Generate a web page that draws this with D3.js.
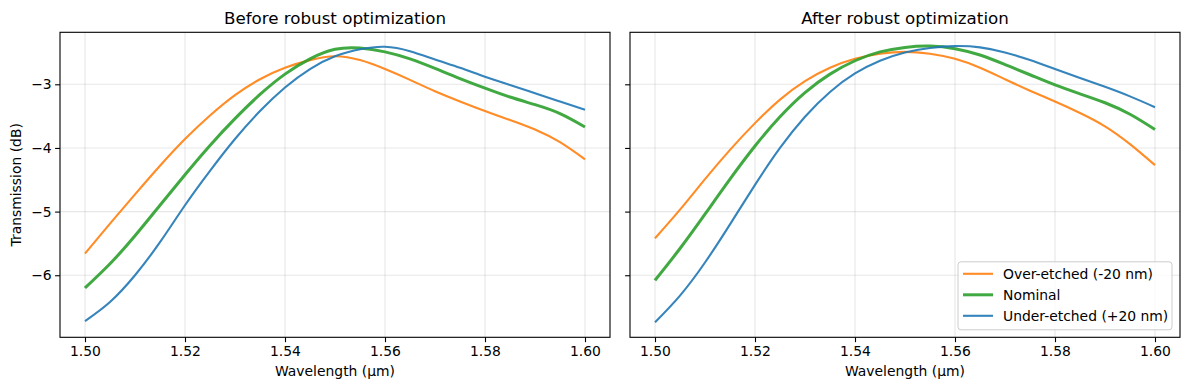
<!DOCTYPE html>
<html>
<head>
<meta charset="utf-8">
<script src="https://cdn.jsdelivr.net/npm/d3@7"></script>
<style>
  body { margin: 0; background: #fff; }
  text { font-family: "DejaVu Sans", sans-serif; fill: #000; }
</style>
</head>
<body>
<div id="my_chart"></div>
<script>

// ======================= //
// DATA
// ======================= //

var wavelengths = [1.500, 1.505, 1.510, 1.515, 1.520, 1.525, 1.530, 1.535, 1.540, 1.545, 1.550,
                   1.555, 1.560, 1.565, 1.570, 1.575, 1.580, 1.585, 1.590, 1.595, 1.600]

// before robust optimization
var beforeOver    = [-5.66, -5.19, -4.73, -4.28, -3.86, -3.49, -3.17, -2.92, -2.74, -2.62, -2.56,
                     -2.62, -2.76, -2.93, -3.11, -3.27, -3.42, -3.56, -3.71, -3.91, -4.18]
var beforeNominal = [-6.20, -5.82, -5.38, -4.90, -4.42, -3.96, -3.54, -3.16, -2.84, -2.60, -2.45,
                     -2.43, -2.49, -2.60, -2.75, -2.91, -3.06, -3.20, -3.32, -3.46, -3.67]
var beforeUnder   = [-6.72, -6.42, -6.00, -5.48, -4.90, -4.36, -3.86, -3.42, -3.05, -2.76, -2.56,
                     -2.45, -2.41, -2.48, -2.61, -2.74, -2.88, -3.01, -3.14, -3.27, -3.40]

// after robust optimization
var afterOver     = [-5.42, -4.97, -4.49, -4.03, -3.61, -3.24, -2.95, -2.74, -2.60, -2.52, -2.49,
                     -2.52, -2.60, -2.74, -2.92, -3.10, -3.27, -3.45, -3.66, -3.94, -4.27]
var afterNominal  = [-6.08, -5.58, -5.04, -4.49, -3.97, -3.51, -3.13, -2.84, -2.63, -2.49, -2.42,
                     -2.40, -2.44, -2.54, -2.69, -2.85, -3.01, -3.15, -3.29, -3.47, -3.71]
var afterUnder    = [-6.74, -6.32, -5.80, -5.20, -4.58, -4.00, -3.51, -3.12, -2.83, -2.63, -2.50,
                     -2.43, -2.40, -2.42, -2.50, -2.62, -2.76, -2.90, -3.04, -3.19, -3.36]

var seriesNames  = ["Over-etched (-20 nm)", "Nominal", "Under-etched (+20 nm)"]
var seriesColors = ["#ff7f0e", "#2ca02c", "#1f77b4"]
var seriesWidths = [2.1, 3, 2.1]

var panelTitles = ["Before robust optimization", "After robust optimization"]
var xTicks = [1.50, 1.52, 1.54, 1.56, 1.58, 1.60]
var yTicks = [-6, -5, -4, -3]



// ======================= //
// SVG AREA, SCALES
// ======================= //

var W = 1190, H = 390
var panelLeft = [60, 630]
var panelTop = 32.3
var panelW = 550, panelH = 305

var svg = d3.select("#my_chart")
  .append("svg")
    .attr("width", W)
    .attr("height", H)

var x = d3.scaleLinear()
  .domain([1.495, 1.605])
  .range([0, panelW])

var y = d3.scaleLinear()
  .domain([-6.975, -2.183])
  .range([panelH, 0])

var line = d3.line()
  .x(function(d){ return x(d[0]) })
  .y(function(d){ return y(d[1]) })
  .curve(d3.curveNatural)



// ======================= //
// PANELS
// ======================= //

function drawPanel(idx, series){

  var g = svg.append("g")
    .attr("transform", "translate(" + panelLeft[idx] + "," + panelTop + ")")

  // grid
  g.selectAll(".xgrid")
    .data(xTicks)
    .enter()
    .append("line")
      .attr("x1", function(d){ return x(d) })
      .attr("x2", function(d){ return x(d) })
      .attr("y1", 0)
      .attr("y2", panelH)
      .style("stroke", "#b0b0b0")
      .style("stroke-opacity", 0.3)
      .style("stroke-width", 1.1)
  g.selectAll(".ygrid")
    .data(yTicks)
    .enter()
    .append("line")
      .attr("x1", 0)
      .attr("x2", panelW)
      .attr("y1", function(d){ return y(d) })
      .attr("y2", function(d){ return y(d) })
      .style("stroke", "#b0b0b0")
      .style("stroke-opacity", 0.3)
      .style("stroke-width", 1.1)

  // curves
  series.forEach(function(vals, i){
    var pts = wavelengths.map(function(w, k){ return [w, vals[k]] })
    g.append("path")
      .datum(pts)
      .attr("d", line)
      .style("fill", "none")
      .style("stroke", seriesColors[i])
      .style("stroke-width", seriesWidths[i])
      .style("stroke-opacity", 0.9)
  })

  // axes
  var xAxis = g.append("g")
    .attr("transform", "translate(0," + panelH + ")")
    .call(d3.axisBottom(x).tickValues(xTicks).tickFormat(d3.format(".2f")).tickSize(4.9).tickPadding(3.5))
  var yAxis = g.append("g")
    .call(d3.axisLeft(y).tickValues(yTicks).tickFormat(idx == 0 ? d3.format("d") : function(){ return "" }).tickSize(4.9).tickPadding(3.5))

  ;[xAxis, yAxis].forEach(function(a){
    a.select(".domain").remove()
    a.selectAll("line").style("stroke", "#000").style("stroke-width", 1.1)
    a.selectAll("text").style("font-size", "13.9px").style("fill", "#000").style("font-family", "DejaVu Sans")
  })

  // frame
  g.append("rect")
    .attr("width", panelW)
    .attr("height", panelH)
    .style("fill", "none")
    .style("stroke", "#000")
    .style("stroke-width", 1.1)

  // title
  g.append("text")
    .attr("x", panelW/2)
    .attr("y", -8)
    .style("text-anchor", "middle")
    .style("font-size", "16.7px")
    .text(panelTitles[idx])

  // x label
  g.append("text")
    .attr("x", panelW/2)
    .attr("y", 344)
    .style("text-anchor", "middle")
    .style("font-size", "13.9px")
    .text("Wavelength (µm)")

  if(idx == 0){
    g.append("text")
      .attr("transform", "translate(-39," + (panelH/2) + ")rotate(-90)")
      .style("text-anchor", "middle")
      .style("font-size", "13.9px")
      .text("Transmission (dB)")
  }

  return g
}

drawPanel(0, [beforeOver, beforeNominal, beforeUnder])
var right = drawPanel(1, [afterOver, afterNominal, afterUnder])



// ======================= //
// LEGEND
// ======================= //

var legend = right.append("g")
  .attr("transform", "translate(" + (panelW - 222) + "," + (panelH - 75.5) + ")")

legend.append("rect")
  .attr("width", 214)
  .attr("height", 68)
  .attr("rx", 3)
  .attr("ry", 3)
  .style("fill", "#fff")
  .style("fill-opacity", 0.8)
  .style("stroke", "#cccccc")
  .style("stroke-width", 1)

legend.selectAll(".legline")
  .data(seriesNames)
  .enter()
  .append("line")
    .attr("x1", 5)
    .attr("x2", 35)
    .attr("y1", function(d, i){ return 12 + i*21 })
    .attr("y2", function(d, i){ return 12 + i*21 })
    .style("stroke", function(d, i){ return seriesColors[i] })
    .style("stroke-width", function(d, i){ return seriesWidths[i] })
    .style("stroke-opacity", 0.9)

legend.selectAll(".legtext")
  .data(seriesNames)
  .enter()
  .append("text")
    .attr("x", 45)
    .attr("y", function(d, i){ return 12 + i*21 })
    .attr("dy", "0.35em")
    .style("font-size", "13.9px")
    .text(function(d){ return d })

</script>
</body>
</html>
